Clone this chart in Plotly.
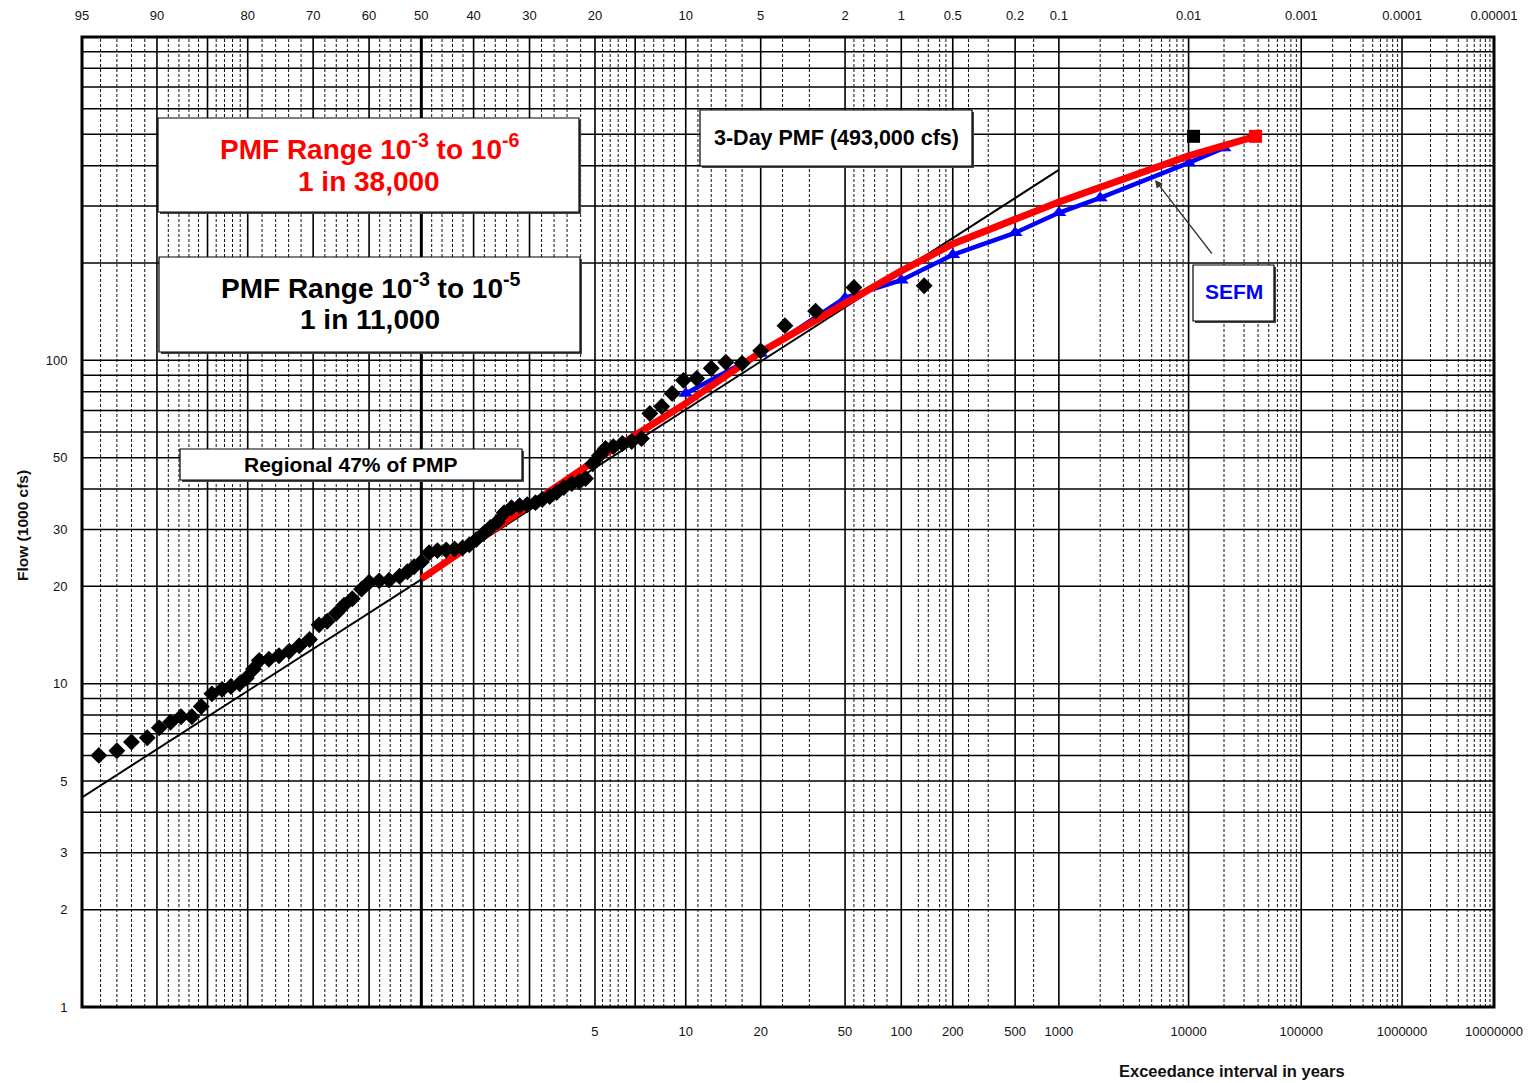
import plotly.graph_objects as go
from statistics import NormalDist

ND = NormalDist()


def z_pct(p):
    return ND.inv_cdf(1 - p / 100.0)


def z_T(T):
    return ND.inv_cdf(1 - 1.0 / T)


# ---------------- data ----------------
obs_exceed_pct = [94.1, 93.0, 92.0, 90.8, 89.8, 88.8, 87.8, 86.7, 85.7, 84.5,
                  83.3, 82.2, 81.1, 80.2, 79.2, 78.4, 77.0, 75.5, 73.9, 72.3,
                  70.6, 69.0, 67.6, 66.0, 64.6, 63.1, 61.4, 60.0, 58.1, 56.2,
                  54.2, 52.7, 51.4, 50.0, 48.5, 46.9, 45.2, 43.6, 42.1, 40.8,
                  39.5, 38.2, 36.9, 35.6, 34.4, 33.1, 31.7, 30.4, 29.0, 27.9,
                  26.7, 25.6, 24.5, 23.3, 22.2, 21.3, 20.3, 19.4, 18.6, 17.6,
                  16.5, 15.4, 14.3, 13.4, 12.2, 11.2, 10.2, 9.1, 8.0, 7.0,
                  6.0, 5.0, 3.9, 2.8, 1.8, 0.74]
obs_flow = [6.0, 6.2, 6.6, 6.8, 7.3, 7.6, 7.9, 7.9, 8.5, 9.3,
            9.6, 9.8, 10.0, 10.4, 11.1, 11.8, 11.9, 12.2, 12.6, 13.1,
            13.7, 15.2, 15.6, 16.5, 17.5, 18.3, 19.6, 20.6, 20.8, 20.9,
            21.5, 22.2, 23.0, 23.8, 25.4, 25.8, 25.9, 26.1, 26.3, 26.9,
            27.9, 29.1, 30.4, 31.7, 33.8, 35.0, 35.5, 35.8, 36.3, 37.1,
            37.9, 39.0, 40.4, 41.6, 42.1, 43.1, 47.9, 50.8, 53.4, 54.1,
            55.3, 56.1, 57.3, 68.5, 72.0, 79.0, 86.7, 87.9, 94.5, 98.6,
            97.9, 107, 128, 142, 168, 170]

reg_exceed_pct = [95, 0.1]
reg_flow = [4.45, 388]

pmf_T = [2, 5, 10, 20, 50, 100, 200, 500, 1000, 10000, 38000]
pmf_flow = [21.1, 49, 73.6, 106, 150, 189, 229, 274, 309, 429, 493]

sefm_T = [10, 20, 50, 100, 200, 500, 1000, 2000, 10000, 20000]
sefm_flow = [79, 105, 156, 177, 212, 248, 286, 318, 408, 454]

pmf_11k_T = [11000]
pmf_38k_T = [38000]
pmf_peak_flow = [493]

top_tick_pct = [95, 90, 80, 70, 60, 50, 40, 30, 20, 10, 5, 2, 1, 0.5, 0.2, 0.1,
                0.01, 0.001, 0.0001, 0.00001]
top_tick_text = ["95", "90", "80", "70", "60", "50", "40", "30", "20", "10", "5",
                 "2", "1", "0.5", "0.2", "0.1", "0.01", "0.001", "0.0001", "0.00001"]
bottom_tick_T = [5, 10, 20, 50, 100, 200, 500, 1000, 10000, 100000, 1000000, 10000000]
bottom_tick_text = ["5", "10", "20", "50", "100", "200", "500", "1000", "10000",
                    "100000", "1000000", "10000000"]
y_tick_vals = [1, 2, 3, 5, 10, 20, 30, 50, 100]

solid_grid_pct = [90, 85, 80, 70, 60, 40, 30, 20, 15, 10, 5, 2, 1, 0.5, 0.2, 0.1,
                  0.01, 0.001, 0.0001]
dashed_grid_pct = [94, 93, 92, 91, 89, 88, 87, 86, 84, 83, 82, 81,
                   78, 76, 74, 72, 68, 66, 64, 62, 58, 56, 54, 52,
                   48, 46, 44, 42, 38, 36, 34, 32, 28, 26, 24, 22,
                   19, 18, 17, 16, 14, 13, 12, 11, 9, 8, 7, 6, 4, 3,
                   1.8, 1.6, 1.4, 1.2, 0.8, 0.7, 0.6, 0.55, 0.4, 0.3, 0.15]
dashed_grid_T = [m * d for d in (1000, 10000, 100000, 1000000) for m in range(2, 10)]
h_grid = [m * d for d in (1, 10, 100) for m in range(1, 10)][1:] + [1000]

# ---------------- layout helpers ----------------
W, H = 1529, 1083
L, R, T, B = 82, 35, 37, 76
PW, PH = W - L - R, H - T - B


def px(x):
    return (x - L) / PW


def py(y):
    return (T + PH - y) / PH


X0, X1 = z_pct(95), z_pct(0.00001)

fig = go.Figure()


def vline_trace(zs, color, width, dash=None):
    xs, ys = [], []
    for z in zs:
        xs += [z, z, None]
        ys += [1, 1000, None]
    line = dict(color=color, width=width)
    if dash:
        line["dash"] = dash
    return go.Scatter(x=xs, y=ys, mode="lines", line=line, hoverinfo="skip",
                      showlegend=False)


def hline_trace(vals, color, width):
    xs, ys = [], []
    for v in vals:
        xs += [X0, X1, None]
        ys += [v, v, None]
    return go.Scatter(x=xs, y=ys, mode="lines", line=dict(color=color, width=width),
                      hoverinfo="skip", showlegend=False)


fig.add_trace(vline_trace([z_pct(p) for p in dashed_grid_pct] + [z_T(t) for t in dashed_grid_T],
                          "#111", 1, "3px,2px"))
fig.add_trace(hline_trace(h_grid, "#000", 1.5))
fig.add_trace(vline_trace([z_pct(p) for p in solid_grid_pct], "#000", 1.6))
fig.add_trace(vline_trace([z_pct(50)], "#000", 3))

# regression line
fig.add_trace(go.Scatter(x=[z_pct(p) for p in reg_exceed_pct], y=reg_flow, mode="lines",
                         line=dict(color="#000", width=2), showlegend=False))
# SEFM
fig.add_trace(go.Scatter(x=[z_T(t) for t in sefm_T], y=sefm_flow, mode="lines+markers",
                         line=dict(color="#0000ff", width=4.5),
                         marker=dict(symbol="triangle-up", size=13, color="#0000ff"),
                         showlegend=False))
# PMF curve
fig.add_trace(go.Scatter(x=[z_T(t) for t in pmf_T], y=pmf_flow, mode="lines",
                         line=dict(color="#ff0000", width=7), showlegend=False))
# observed
fig.add_trace(go.Scatter(x=[z_pct(p) for p in obs_exceed_pct], y=obs_flow, mode="markers",
                         marker=dict(symbol="diamond", size=13, color="#000"),
                         showlegend=False))
# PMF squares
fig.add_trace(go.Scatter(x=[z_T(t) for t in pmf_11k_T], y=pmf_peak_flow, mode="markers",
                         marker=dict(symbol="square", size=13, color="#000"),
                         showlegend=False))
fig.add_trace(go.Scatter(x=[z_T(t) for t in pmf_38k_T], y=pmf_peak_flow, mode="markers",
                         marker=dict(symbol="square", size=13, color="#ff0000"),
                         showlegend=False))
# dummy on top axis
fig.add_trace(go.Scatter(x=[X0], y=[10], xaxis="x2", mode="markers",
                         marker=dict(opacity=0), hoverinfo="skip", showlegend=False))

font = "Liberation Sans, Arial, sans-serif"
tickfont = dict(size=13, family=font, color="#111")

fig.update_layout(
    width=W, height=H,
    margin=dict(l=L, r=R, t=T, b=B, autoexpand=False),
    paper_bgcolor="white", plot_bgcolor="white",
    showlegend=False,
    font=dict(family=font, size=13, color="#111"),
    xaxis=dict(range=[X0, X1], tickmode="array", automargin=False,
               tickvals=[z_T(t) for t in bottom_tick_T], ticktext=bottom_tick_text,
               showgrid=False, zeroline=False, showline=False,
               ticks="outside", ticklen=12, tickcolor="rgba(0,0,0,0)",
               tickfont=tickfont),
    xaxis2=dict(range=[X0, X1], overlaying="x", side="top", tickmode="array",
                automargin=False,
                tickvals=[z_pct(p) for p in top_tick_pct], ticktext=top_tick_text,
                showgrid=False, zeroline=False, showline=False,
                ticks="outside", ticklen=11, tickcolor="rgba(0,0,0,0)",
                tickfont=tickfont),
    yaxis=dict(type="log", range=[0, 3], tickmode="array", tickvals=y_tick_vals,
               automargin=False,
               ticktext=[str(v) for v in y_tick_vals],
               showgrid=False, zeroline=False, showline=False,
               ticks="outside", ticklen=11, tickcolor="rgba(0,0,0,0)",
               tickfont=tickfont),
)

fig.add_shape(type="rect", xref="paper", yref="paper", x0=0, x1=1, y0=0, y1=1,
              line=dict(color="#000", width=3), layer="above")


def box(x0, y0, x1, y1):
    # shadow
    fig.add_shape(type="rect", xref="paper", yref="paper",
                  x0=px(x0 + 2), x1=px(x1 + 2), y0=py(y1 + 2), y1=py(y0 + 2),
                  line=dict(width=0), fillcolor="#444", layer="above")
    fig.add_shape(type="rect", xref="paper", yref="paper",
                  x0=px(x0), x1=px(x1), y0=py(y1), y1=py(y0),
                  line=dict(color="#000", width=1.2), fillcolor="white", layer="above")


def label(cx, cy, text, color, size):
    fig.add_annotation(xref="paper", yref="paper", x=px(cx), y=py(cy),
                       xanchor="center", yanchor="middle", showarrow=False,
                       text=text, font=dict(family=font, size=size, color=color))


box(158, 118, 579, 212)
label(369, 147, "<b>PMF Range 10<sup>-3</sup> to 10<sup>-6</sup></b>", "#ff0000", 28)
label(369, 181, "<b>1 in 38,000</b>", "#ff0000", 28)

box(159, 257, 580, 352)
label(370, 286, "<b>PMF Range 10<sup>-3</sup> to 10<sup>-5</sup></b>", "#000", 28)
label(370, 320, "<b>1 in 11,000</b>", "#000", 28)

box(700, 110, 972, 166)
label(836, 138, "<b>3-Day PMF (493,000 cfs)</b>", "#000", 21.5)

box(180, 449, 522, 480)
label(351, 464, "<b>Regional 47% of PMP</b>", "#000", 21)

box(1193, 265, 1274, 321)
label(1234, 292, "<b>SEFM</b>", "#0000ff", 21)

fig.add_annotation(xref="paper", yref="paper", x=px(1155), y=py(180), ax=58, ay=75,
                   text="", showarrow=True, arrowhead=2, arrowsize=1.2, arrowwidth=1.3,
                   arrowcolor="#333")

fig.add_annotation(xref="paper", yref="paper", x=px(22), y=py(526), textangle=-90,
                   text="<b>Flow (1000 cfs)</b>", showarrow=False,
                   xanchor="center", yanchor="middle",
                   font=dict(family=font, size=15.5, color="#111"))
fig.add_annotation(xref="paper", yref="paper", x=px(1232), y=py(1071),
                   text="<b>Exceedance interval in years</b>", showarrow=False,
                   xanchor="center", yanchor="middle",
                   font=dict(family=font, size=16.5, color="#111"))

fig.write_html("out.html", config={"displayModeBar": False},
               post_script="document.body.style.margin='0';document.body.style.overflow='hidden';")
